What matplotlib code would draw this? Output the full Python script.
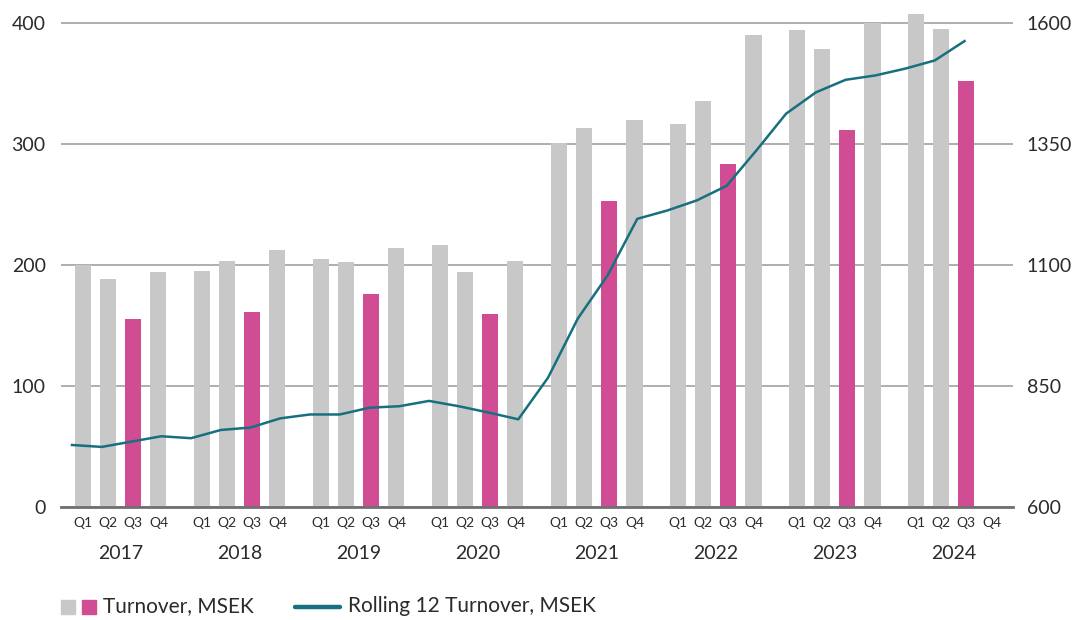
import matplotlib
matplotlib.use("Agg")
import matplotlib.pyplot as plt
import numpy as np
from matplotlib.patches import Rectangle
from matplotlib.lines import Line2D

plt.rcParams['font.family'] = ['Lato', 'DejaVu Sans']

years = ["2017", "2018", "2019", "2020", "2021", "2022", "2023", "2024"]
quarters = ["Q1", "Q2", "Q3", "Q4"]

# quarterly turnover, MSEK (2024 Q4 not reported yet)
turnover = [200, 188, 155, 194,
            195, 203, 161, 212,
            205, 202, 176, 214,
            216, 194, 159, 203,
            301, 313, 253, 320,
            316, 335, 283, 390,
            394, 378, 311, 400,
            407, 395, 352, np.nan]

# rolling 12 months turnover, MSEK
rolling12 = [728, 724, 735, 746,
             742, 759, 764, 783,
             791, 791, 805, 808,
             819, 808, 795, 781,
             867, 989, 1078, 1195,
             1212, 1233, 1263, 1336,
             1412, 1456, 1482, 1491,
             1505, 1522, 1562]

grey = "#c8c8c8"
pink = "#d04d94"
teal = "#17707f"
text_col = "#2b2b2b"

W, H = 1076, 620
fig = plt.figure(figsize=(W / 100, H / 100), dpi=100)
ax = fig.add_axes([0.0567, 0.1823, 0.8848, 0.8161])
ax2 = ax.twinx()

# bars are grouped per year, the line runs evenly over the quarters
bar_x = []
for y in range(len(years)):
    for q in range(len(quarters)):
        bar_x.append(4 * y + 2 + (q - 1.5) * 0.85)
bar_x = np.array(bar_x)
line_x = np.arange(len(rolling12)) + 0.37

colors = [pink if i % 4 == 2 else grey for i in range(len(turnover))]
ax.bar(bar_x, turnover, width=0.54, color=colors, zorder=2)

ax2.plot(line_x, rolling12, color=teal, lw=1.8, zorder=3)

ax.set_xlim(0, 32)
ax.set_ylim(0, 417.9)
ax2.set_ylim(600, 600 + 417.9 * 2.5)
ax.set_yticks([0, 100, 200, 300, 400])
ax2.set_yticks([600, 850, 1100, 1350, 1600])

ax.yaxis.grid(True, color="#a8a8a8", lw=1.3)
ax.set_axisbelow(True)

for a in (ax, ax2):
    for s in a.spines.values():
        s.set_visible(False)
ax.spines['bottom'].set_visible(True)
ax.spines['bottom'].set_color("#707070")
ax.spines['bottom'].set_linewidth(2)
ax.spines['bottom'].set_zorder(4)

ax.tick_params(axis='y', length=0, pad=11, labelsize=14, labelcolor=text_col)
ax2.tick_params(axis='y', length=0, pad=10, labelsize=14, labelcolor=text_col)

ax.set_xticks(bar_x)
ax.set_xticklabels(quarters * len(years))
ax.tick_params(axis='x', length=0, pad=7, labelsize=10, labelcolor=text_col)

for y, yr in enumerate(years):
    ax.text(4 * y + 2, -0.091, yr, transform=ax.get_xaxis_transform(),
            ha='center', va='center', fontsize=14, color=text_col)

# legend, drawn by hand in pixel positions of the figure
def fx(px):
    return px / W

def fy(py):
    return 1 - py / H

fig.add_artist(Rectangle((fx(61), fy(613.5)), 14 / W, 14 / H, color=grey,
                         transform=fig.transFigure))
fig.add_artist(Rectangle((fx(82), fy(613.5)), 14 / W, 14 / H, color=pink,
                         transform=fig.transFigure))
fig.text(fx(103), fy(606.5), "Turnover, MSEK", fontsize=15, color=text_col,
         ha='left', va='center')
fig.add_artist(Line2D([fx(295), fx(340)], [fy(606.5), fy(606.5)], color=teal,
                      lw=3.2, solid_capstyle='round', transform=fig.transFigure))
fig.text(fx(348), fy(606.5), "Rolling 12 Turnover, MSEK", fontsize=15,
         color=text_col, ha='left', va='center')

fig.savefig("out.png", dpi=100)
